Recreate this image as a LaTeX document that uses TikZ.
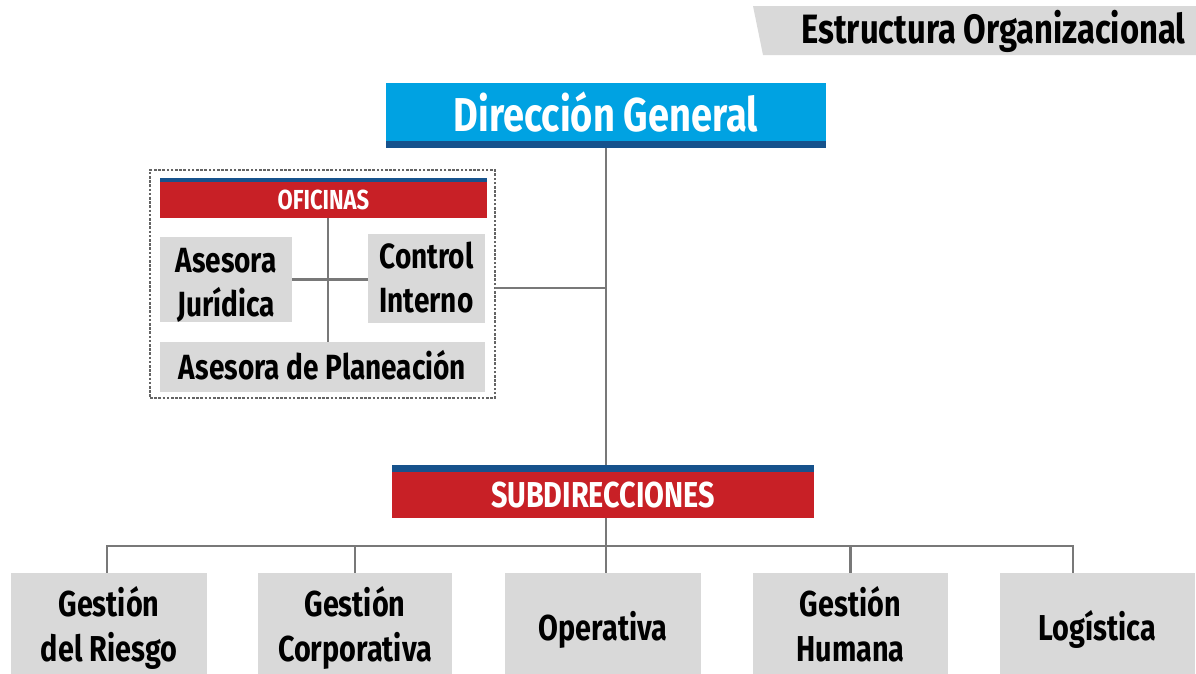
\documentclass[tikz,border=0pt]{standalone}
\usepackage{fontspec}
\setmainfont{Fira Sans}[FakeStretch=0.8]
\usetikzlibrary{positioning}
\definecolor{SkyBlue}{RGB}{0,162,226}
\definecolor{Navy}{RGB}{22,82,140}
\definecolor{BandRed}{RGB}{200,32,38}
\definecolor{BoxGray}{RGB}{217,217,217}
\definecolor{LineGray}{RGB}{120,120,120}
\definecolor{DotGray}{RGB}{100,100,100}
\tikzset{
  titletext/.style={inner sep=0pt,font=\bfseries\fontsize{41}{46}\selectfont},
  headbox/.style={fill=SkyBlue,text=white,inner sep=0pt,font=\bfseries\fontsize{47.5}{52}\selectfont,text height=32.7pt,text depth=0pt,path picture={\fill[Navy] (path picture bounding box.south west) rectangle ([yshift=7pt]path picture bounding box.south east);}},
  bandbox/.style={fill=BandRed,text=white,inner sep=0pt,text depth=0pt,path picture={\fill[Navy] (path picture bounding box.north west) rectangle ([yshift=-#1]path picture bounding box.north east);}},
  unit/.style={fill=BoxGray,inner sep=0pt,align=center,font=\bfseries\fontsize{36}{45}\selectfont},
  office/.style={fill=BoxGray,inner sep=0pt,align=center,font=\bfseries\fontsize{35}{44}\selectfont},
  dotframe/.style={draw=DotGray,line width=2.8pt,dash pattern=on 2.6pt off 1.6pt,inner sep=0pt},
  orgpath/.style={draw=LineGray,line width=2.5pt}
}
\begin{document}
\begin{tikzpicture}[x=1pt,y=-1pt]
\useasboundingbox (0,0) rectangle (1196,673);
\clip (0,0) rectangle (1196,673);
% title banner
\fill[BoxGray] (753,6) -- (1196,6) -- (1196,55) -- (763,55) -- cycle;
\node[titletext,anchor=base] (title) at (993.5,43) {Estructura Organizacional};

\node[headbox,minimum width=440,minimum height=65] (dg) at (606,115.5) {Dirección General};

% oficinas
\node[dotframe,minimum width=345,minimum height=228] (ofiframe) at (322.5,284) {};
\node[bandbox=4pt,font=\bfseries\fontsize{27.5}{30}\selectfont,text height=22.9pt,minimum width=327,minimum height=40] (ofi) at (323.5,198) {OFICINAS};
\node[office,minimum width=132,minimum height=85] (juri) at (226,279.5) {\rule{0pt}{35pt}Asesora\\Jurídica};
\node[office,minimum width=117,minimum height=89] (control) at (426.5,278) {Control\\Interno};
\node[office,minimum width=325,minimum height=50,text height=24.1pt,text depth=0pt] (plan) at (322.5,367) {Asesora de Planeación};
\coordinate (ofiaxis) at (328,218);
\draw[orgpath] (ofiaxis) -- (ofiaxis |- plan.north);
\draw[orgpath] (juri.east) -- (juri.east -| control.west);
\coordinate (ofijoin) at (495,288);
\draw[orgpath] (ofijoin) -- (ofijoin -| dg.south);

% subdirecciones
\node[bandbox=7pt,font=\bfseries\fontsize{36}{40}\selectfont,text height=32.8pt,minimum width=422,minimum height=53] (sub) at (603,491.5) {SUBDIRECCIONES};
\draw[orgpath] (dg.south) -- (dg.south |- sub.north);

\node[unit,minimum width=196,minimum height=110] (riesgo) at (109,628) {Gestión\\del Riesgo};
\node[unit,minimum width=194,minimum height=110] (corp) at (355,628) {Gestión\\Corporativa};
\node[unit,minimum width=196,minimum height=110,text height=24.8pt,text depth=0pt] (op) at (603,628) {Operativa};
\node[unit,minimum width=195,minimum height=110] (humana) at (850.5,628) {Gestión\\Humana\rule[-8.6pt]{0pt}{0pt}};
\node[unit,minimum width=195,minimum height=110,text height=24.8pt,text depth=0pt] (logis) at (1097.5,628) {Logística};

\coordinate (busL) at (107,546);
\coordinate (busR) at (1073,546);
\draw[orgpath] (dg.south |- sub.south) -- (dg.south |- op.north);
\draw[orgpath] (busL |- riesgo.north) -- (busL) -- (busR) -- (busR |- logis.north);
\draw[orgpath] (busL -| corp.north) -- (corp.north);
\draw[orgpath] (busL -| humana.north) -- (humana.north);
\end{tikzpicture}
\end{document}
